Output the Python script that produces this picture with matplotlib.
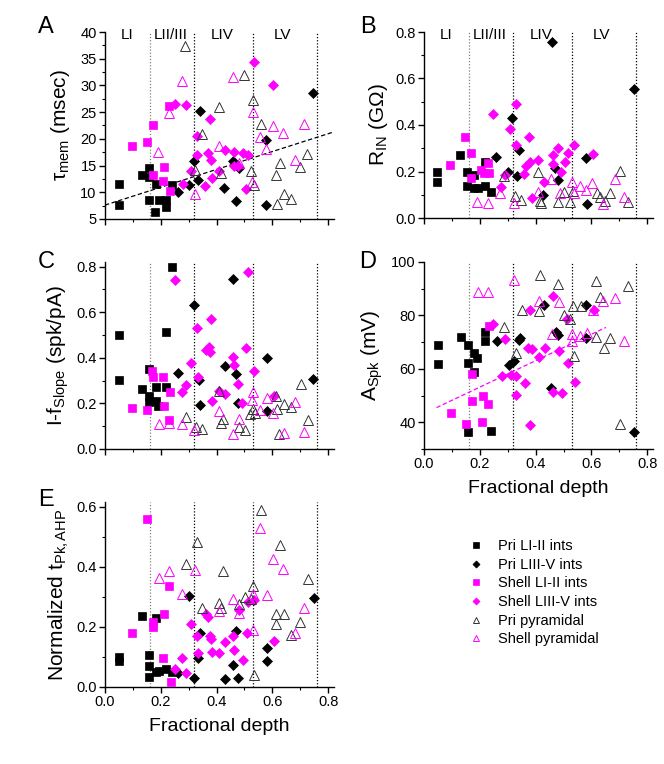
import matplotlib
matplotlib.use("Agg")
import matplotlib.pyplot as plt
from matplotlib.lines import Line2D
from matplotlib.ticker import MultipleLocator, FormatStrFormatter

plt.rcParams['font.family'] = ['Liberation Sans', 'DejaVu Sans']
plt.rcParams['mathtext.fontset'] = 'custom'
plt.rcParams['mathtext.rm'] = 'Liberation Sans'
plt.rcParams['mathtext.it'] = 'Liberation Sans:italic'
plt.rcParams['mathtext.default'] = 'regular'

MAG = '#FF00FF'

# ---------------- data ----------------
layer_bounds = [0.16, 0.32, 0.53, 0.76]
layer_names = ['LI', 'LII/III', 'LIV', 'LV']
layer_label_x = [0.08, 0.235, 0.42, 0.635]

series_labels = ['Pri LI-II ints', 'Pri LIII-V ints', 'Shell LI-II ints',
                 'Shell LIII-V ints', 'Pri pyramidal', 'Shell pyramidal']

# Panel A: tau_mem (msec)
A_pri_sq_x = [0.050, 0.051, 0.131, 0.157, 0.157, 0.159, 0.183, 0.180, 0.193, 0.217, 0.220, 0.240]
A_pri_sq_y = [11.5, 7.6, 13.25, 14.5, 12.8, 8.6, 11.6, 6.4, 8.6, 8.6, 7.25, 11.3]
A_pri_di_x = [0.262, 0.300, 0.320, 0.335, 0.341, 0.428, 0.458, 0.470, 0.479, 0.577, 0.577, 0.747]
A_pri_di_y = [10.1, 11.3, 15.9, 12.3, 25.25, 10.75, 15.9, 8.45, 14.5, 19.7, 7.6, 28.6]
A_sh_sq_x = [0.097, 0.151, 0.171, 0.171, 0.211, 0.207, 0.233, 0.229]
A_sh_sq_y = [18.75, 19.4, 22.6, 13.25, 14.8, 12.1, 10.25, 26.2]
A_sh_di_x = [0.251, 0.289, 0.278, 0.307, 0.329, 0.331, 0.360, 0.375, 0.370, 0.380, 0.384,
             0.409, 0.430, 0.462, 0.462, 0.478, 0.493, 0.514, 0.505, 0.535, 0.603]
A_sh_di_y = [26.6, 26.4, 11.5, 14.0, 17.0, 20.6, 11.25, 23.7, 17.3, 16.1, 12.75,
             14.0, 17.9, 17.5, 15.0, 15.0, 17.3, 16.9, 10.6, 34.4, 30.1]
A_pri_tr_x = [0.288, 0.324, 0.349, 0.409, 0.415, 0.499, 0.532, 0.523, 0.534, 0.559, 0.626,
              0.613, 0.643, 0.615, 0.665, 0.699, 0.725]
A_pri_tr_y = [37.3, 14.1, 20.9, 25.9, 13.6, 32.0, 27.3, 13.9, 11.4, 22.75, 15.4,
              13.25, 9.6, 7.75, 8.75, 14.7, 17.2]
A_sh_tr_x = [0.191, 0.231, 0.276, 0.321, 0.409, 0.458, 0.479, 0.529, 0.528, 0.556, 0.577,
             0.601, 0.639, 0.680, 0.713]
A_sh_tr_y = [17.6, 24.8, 30.9, 9.6, 18.7, 31.6, 15.4, 25.1, 12.0, 20.4, 18.1,
             22.4, 21.1, 16.1, 22.75]
A_fit_x = [0.0, 0.82]
A_fit_y = [7.6, 21.3]

# Panel B: R_IN (GOhm)
B_pri_sq_x = [0.048, 0.048, 0.129, 0.154, 0.154, 0.181, 0.179, 0.193, 0.217, 0.217, 0.239]
B_pri_sq_y = [0.199, 0.156, 0.271, 0.200, 0.136, 0.186, 0.127, 0.131, 0.139, 0.243, 0.113]
B_pri_di_x = [0.259, 0.302, 0.317, 0.332, 0.341, 0.428, 0.458, 0.470, 0.480, 0.581, 0.583, 0.751]
B_pri_di_y = [0.264, 0.199, 0.429, 0.179, 0.291, 0.099, 0.756, 0.213, 0.163, 0.260, 0.060, 0.556]
B_sh_sq_x = [0.094, 0.147, 0.168, 0.170, 0.206, 0.214, 0.233, 0.228]
B_sh_sq_y = [0.229, 0.350, 0.279, 0.171, 0.207, 0.193, 0.193, 0.236]
B_sh_di_x = [0.247, 0.277, 0.290, 0.309, 0.328, 0.329, 0.358, 0.367, 0.375, 0.380, 0.386,
             0.410, 0.430, 0.461, 0.462, 0.481, 0.492, 0.507, 0.515, 0.537, 0.607]
B_sh_di_y = [0.449, 0.134, 0.184, 0.381, 0.491, 0.314, 0.189, 0.224, 0.350, 0.243, 0.086,
             0.249, 0.153, 0.234, 0.270, 0.300, 0.199, 0.243, 0.279, 0.314, 0.274]
B_pri_tr_x = [0.286, 0.327, 0.347, 0.409, 0.415, 0.421, 0.481, 0.501, 0.522, 0.533,
              0.619, 0.631, 0.648, 0.666, 0.703, 0.730]
B_pri_tr_y = [0.179, 0.096, 0.077, 0.199, 0.074, 0.063, 0.067, 0.113, 0.067, 0.117,
              0.107, 0.089, 0.074, 0.106, 0.203, 0.067]
B_sh_tr_x = [0.191, 0.229, 0.274, 0.321, 0.410, 0.456, 0.486, 0.531, 0.537, 0.559, 0.581,
             0.602, 0.643, 0.684, 0.718]
B_sh_tr_y = [0.067, 0.064, 0.106, 0.063, 0.110, 0.167, 0.106, 0.153, 0.106, 0.139, 0.120,
             0.149, 0.060, 0.167, 0.091]

# Panel C: I-f slope (spk/pA)
C_pri_sq_x = [0.051, 0.051, 0.131, 0.157, 0.157, 0.157, 0.182, 0.182, 0.191, 0.217, 0.220, 0.240]
C_pri_sq_y = [0.500, 0.301, 0.263, 0.351, 0.234, 0.208, 0.274, 0.212, 0.190, 0.274, 0.511, 0.797]
C_pri_di_x = [0.260, 0.320, 0.337, 0.341, 0.430, 0.458, 0.470, 0.477, 0.579, 0.579, 0.747]
C_pri_di_y = [0.332, 0.632, 0.303, 0.192, 0.364, 0.746, 0.331, 0.203, 0.398, 0.168, 0.306]
C_sh_sq_x = [0.097, 0.151, 0.170, 0.171, 0.207, 0.211, 0.234, 0.231]
C_sh_sq_y = [0.178, 0.171, 0.344, 0.317, 0.315, 0.190, 0.252, 0.127]
C_sh_di_x = [0.251, 0.276, 0.290, 0.308, 0.329, 0.332, 0.361, 0.372, 0.376, 0.380, 0.385,
             0.407, 0.431, 0.460, 0.462, 0.478, 0.492, 0.505, 0.514, 0.535, 0.607]
C_sh_di_y = [0.742, 0.249, 0.281, 0.379, 0.530, 0.317, 0.432, 0.449, 0.427, 0.569, 0.212,
             0.256, 0.241, 0.402, 0.367, 0.284, 0.203, 0.442, 0.778, 0.342, 0.234]
C_pri_tr_x = [0.289, 0.326, 0.348, 0.410, 0.414, 0.424, 0.481, 0.502, 0.520, 0.532, 0.538,
              0.613, 0.615, 0.625, 0.642, 0.665, 0.701, 0.726]
C_pri_tr_y = [0.142, 0.095, 0.086, 0.256, 0.116, 0.130, 0.098, 0.083, 0.154, 0.174, 0.157,
              0.234, 0.176, 0.066, 0.198, 0.186, 0.285, 0.127]
C_sh_tr_x = [0.192, 0.229, 0.276, 0.320, 0.409, 0.460, 0.479, 0.529, 0.528, 0.556, 0.579,
             0.601, 0.642, 0.681, 0.713]
C_sh_tr_y = [0.110, 0.116, 0.110, 0.083, 0.168, 0.066, 0.132, 0.249, 0.215, 0.171, 0.222,
             0.159, 0.072, 0.208, 0.076]

# Panel D: A_Spk (mV)
D_pri_sq_x = [0.050, 0.050, 0.131, 0.156, 0.156, 0.180, 0.191, 0.180, 0.219, 0.219, 0.156, 0.240]
D_pri_sq_y = [68.75, 61.9, 72.1, 68.75, 62.1, 66.1, 64.25, 58.75, 73.9, 70.4, 36.4, 36.75]
D_pri_di_x = [0.261, 0.303, 0.321, 0.339, 0.345, 0.429, 0.456, 0.474, 0.482, 0.581, 0.581, 0.751]
D_pri_di_y = [70.5, 61.5, 63.0, 70.75, 71.4, 83.9, 52.9, 73.9, 72.6, 83.9, 71.5, 36.4]
D_sh_sq_x = [0.096, 0.149, 0.171, 0.173, 0.207, 0.213, 0.231, 0.234]
D_sh_sq_y = [43.6, 39.4, 48.0, 58.25, 40.25, 49.75, 46.75, 75.9]
D_sh_di_x = [0.249, 0.280, 0.291, 0.313, 0.329, 0.330, 0.361, 0.381, 0.379, 0.373, 0.387,
             0.413, 0.433, 0.463, 0.463, 0.483, 0.495, 0.511, 0.517, 0.540, 0.609]
D_sh_di_y = [76.9, 57.4, 71.1, 57.75, 57.5, 50.25, 54.6, 39.1, 81.9, 67.75, 67.4,
             64.4, 67.75, 87.4, 51.5, 66.75, 50.9, 78.6, 62.1, 55.25, 81.9]
D_pri_tr_x = [0.285, 0.329, 0.350, 0.411, 0.415, 0.482, 0.501, 0.525, 0.534, 0.537, 0.561,
              0.618, 0.618, 0.631, 0.645, 0.667, 0.730, 0.703]
D_pri_tr_y = [75.6, 66.1, 82.1, 81.5, 95.25, 91.9, 80.25, 78.75, 83.4, 64.9, 83.4,
              71.9, 93.0, 86.9, 67.75, 71.5, 90.9, 39.4]
D_sh_tr_x = [0.192, 0.231, 0.321, 0.413, 0.484, 0.458, 0.529, 0.531, 0.559, 0.585, 0.606,
             0.643, 0.684, 0.718]
D_sh_tr_y = [88.75, 88.75, 93.4, 85.25, 84.9, 73.0, 73.0, 70.25, 72.4, 73.6, 82.1,
             85.25, 86.5, 70.6]
D_fit_x = [0.045, 0.652]
D_fit_y = [45.5, 75.5]

# Panel E: normalized t_Pk,AHP
E_pri_sq_x = [0.051, 0.051, 0.131, 0.157, 0.158, 0.157, 0.183, 0.182, 0.195, 0.217, 0.240]
E_pri_sq_y = [0.101, 0.087, 0.236, 0.108, 0.071, 0.034, 0.228, 0.051, 0.053, 0.059, 0.049]
E_pri_di_x = [0.260, 0.302, 0.320, 0.335, 0.342, 0.430, 0.458, 0.471, 0.478, 0.579, 0.579, 0.749]
E_pri_di_y = [0.048, 0.303, 0.029, 0.095, 0.180, 0.025, 0.074, 0.187, 0.029, 0.128, 0.087, 0.296]
E_sh_sq_x = [0.097, 0.151, 0.171, 0.171, 0.207, 0.213, 0.231, 0.235]
E_sh_sq_y = [0.180, 0.557, 0.217, 0.198, 0.095, 0.244, 0.335, 0.015]
E_sh_di_x = [0.251, 0.276, 0.290, 0.308, 0.329, 0.332, 0.361, 0.370, 0.376, 0.380, 0.385,
             0.407, 0.431, 0.460, 0.462, 0.479, 0.494, 0.508, 0.514, 0.535, 0.606]
E_sh_di_y = [0.059, 0.097, 0.048, 0.209, 0.170, 0.114, 0.242, 0.233, 0.170, 0.161, 0.117,
             0.112, 0.148, 0.170, 0.123, 0.255, 0.090, 0.180, 0.281, 0.288, 0.152]
E_pri_tr_x = [0.289, 0.329, 0.346, 0.422, 0.409, 0.416, 0.481, 0.502, 0.523, 0.532, 0.535,
              0.559, 0.613, 0.613, 0.627, 0.643, 0.667, 0.699, 0.726]
E_pri_tr_y = [0.410, 0.482, 0.264, 0.385, 0.280, 0.264, 0.275, 0.299, 0.294, 0.336, 0.040,
              0.589, 0.244, 0.211, 0.471, 0.244, 0.172, 0.217, 0.360]
E_sh_tr_x = [0.192, 0.231, 0.275, 0.321, 0.409, 0.460, 0.482, 0.529, 0.532, 0.556, 0.579,
             0.603, 0.639, 0.681, 0.714]
E_sh_tr_y = [0.364, 0.386, 0.308, 0.390, 0.252, 0.294, 0.246, 0.308, 0.189, 0.529, 0.307,
             0.424, 0.391, 0.180, 0.264]

# ---------------- styles ----------------
styles = [
    dict(marker='s', ms=5.6, mfc='black', mec='black', mew=0.5),
    dict(marker='D', ms=4.8, mfc='black', mec='black', mew=0.5),
    dict(marker='s', ms=5.6, mfc=MAG, mec=MAG, mew=0.5),
    dict(marker='D', ms=4.8, mfc=MAG, mec=MAG, mew=0.5),
    dict(marker='^', ms=6.5, mfc='none', mec='#333333', mew=0.7),
    dict(marker='^', ms=6.5, mfc='none', mec=MAG, mew=0.7),
]

W, H = 664, 764
fig = plt.figure(figsize=(W / 100, H / 100), dpi=100)


def make_ax(left_px, top_px, bottom_px, xmax=0.82):
    width_px = xmax * 279.0
    return fig.add_axes([left_px / W, 1 - bottom_px / H, width_px / W, (bottom_px - top_px) / H])


def style_ax(ax, ylim, ymaj, ymin, xlabels):
    ax.set_xlim(0, 0.82)
    ax.set_ylim(*ylim)
    for s in ['top', 'right']:
        ax.spines[s].set_visible(False)
    ax.spines['left'].set_linewidth(1.0)
    ax.spines['bottom'].set_linewidth(1.0)
    ax.xaxis.set_major_locator(MultipleLocator(0.2))
    ax.xaxis.set_minor_locator(MultipleLocator(0.1))
    ax.yaxis.set_major_locator(MultipleLocator(ymaj))
    ax.yaxis.set_minor_locator(MultipleLocator(ymin))
    ax.tick_params(which='major', direction='out', length=4, width=1.0, labelsize=10.5, pad=2)
    ax.tick_params(which='minor', direction='out', length=2.5, width=0.8)
    if not xlabels:
        ax.tick_params(axis='x', labelbottom=False)
    for i, xb in enumerate(layer_bounds):
        ax.axvline(xb, ls=(0, (1, 1.5)), lw=0.9, color='0.5' if i == 0 else 'black', zorder=1)


def plot_groups(ax, groups):
    for (xs, ys), st in zip(groups, styles):
        ax.plot(xs, ys, ls='none', zorder=3, **st)


LEFT_L, LEFT_R = 105, 424

axA = make_ax(LEFT_L, 32, 219)
style_ax(axA, (5, 40), 5, 2.5, False)
axA.plot(A_fit_x, A_fit_y, ls=(0, (3.5, 2)), color='black', lw=0.9, zorder=2)
plot_groups(axA, [(A_pri_sq_x, A_pri_sq_y), (A_pri_di_x, A_pri_di_y), (A_sh_sq_x, A_sh_sq_y),
                  (A_sh_di_x, A_sh_di_y), (A_pri_tr_x, A_pri_tr_y), (A_sh_tr_x, A_sh_tr_y)])
axA.set_yticks([5, 10, 15, 20, 25, 30, 35, 40])
axA.set_ylabel(r'τ$_{\rm mem}$ (msec)', fontsize=15, labelpad=6)

axB = make_ax(LEFT_R, 32, 218)
style_ax(axB, (0, 0.8), 0.2, 0.1, False)
plot_groups(axB, [(B_pri_sq_x, B_pri_sq_y), (B_pri_di_x, B_pri_di_y), (B_sh_sq_x, B_sh_sq_y),
                  (B_sh_di_x, B_sh_di_y), (B_pri_tr_x, B_pri_tr_y), (B_sh_tr_x, B_sh_tr_y)])
axB.yaxis.set_major_formatter(FormatStrFormatter('%.1f'))
axB.set_ylabel(r'R$_{\rm IN}$ (GΩ)', fontsize=15, labelpad=4)

axC = make_ax(LEFT_L, 262, 449)
style_ax(axC, (0, 0.82), 0.2, 0.1, False)
plot_groups(axC, [(C_pri_sq_x, C_pri_sq_y), (C_pri_di_x, C_pri_di_y), (C_sh_sq_x, C_sh_sq_y),
                  (C_sh_di_x, C_sh_di_y), (C_pri_tr_x, C_pri_tr_y), (C_sh_tr_x, C_sh_tr_y)])
axC.yaxis.set_major_formatter(FormatStrFormatter('%.1f'))
axC.set_ylabel(r'I-f$_{\rm Slope}$ (spk/pA)', fontsize=15, labelpad=4)

axD = make_ax(LEFT_R, 262, 449)
style_ax(axD, (30, 100), 20, 10, True)
axD.plot(D_fit_x, D_fit_y, ls=(0, (3.5, 2)), color=MAG, lw=0.9, zorder=2)
plot_groups(axD, [(D_pri_sq_x, D_pri_sq_y), (D_pri_di_x, D_pri_di_y), (D_sh_sq_x, D_sh_sq_y),
                  (D_sh_di_x, D_sh_di_y), (D_pri_tr_x, D_pri_tr_y), (D_sh_tr_x, D_sh_tr_y)])
axD.set_yticks([40, 60, 80, 100])
axD.xaxis.set_major_formatter(FormatStrFormatter('%.1f'))
axD.set_ylabel(r'A$_{\rm Spk}$ (mV)', fontsize=15, labelpad=4)
axD.set_xlabel('Fractional depth', fontsize=14, labelpad=6)

axE = make_ax(LEFT_L, 502, 687)
style_ax(axE, (0, 0.615), 0.2, 0.1, True)
plot_groups(axE, [(E_pri_sq_x, E_pri_sq_y), (E_pri_di_x, E_pri_di_y), (E_sh_sq_x, E_sh_sq_y),
                  (E_sh_di_x, E_sh_di_y), (E_pri_tr_x, E_pri_tr_y), (E_sh_tr_x, E_sh_tr_y)])
axE.yaxis.set_major_formatter(FormatStrFormatter('%.1f'))
axE.xaxis.set_major_formatter(FormatStrFormatter('%.1f'))
axE.set_ylabel(r'Normalized t$_{\rm Pk,AHP}$', fontsize=15, labelpad=4)
axE.set_xlabel('Fractional depth', fontsize=14, labelpad=6)

# layer names (x in data units, y in axes fraction)
for ax in (axA, axB):
    for name, lx in zip(layer_names, layer_label_x):
        ax.text(lx, 0.985, name, transform=ax.get_xaxis_transform(),
                ha='center', va='center', fontsize=11)

# panel letters
for letter, (px, py) in zip('ABCDE', [(46, 27), (368, 27), (46, 262), (368, 262), (46, 500)]):
    fig.text(px / W, 1 - py / H, letter, fontsize=17, ha='center', va='center')

# legend
handles = [Line2D([], [], ls='none', **{**st, 'ms': st['ms'] * 0.75}) for st in styles]
fig.legend(handles, series_labels, loc='upper left', bbox_to_anchor=(469 / W, 1 - 539 / H),
           frameon=False, fontsize=10.5, handlelength=1.0, handletextpad=1.0,
           labelspacing=0.32, borderpad=0, borderaxespad=0)

fig.savefig('out.png', dpi=100)
